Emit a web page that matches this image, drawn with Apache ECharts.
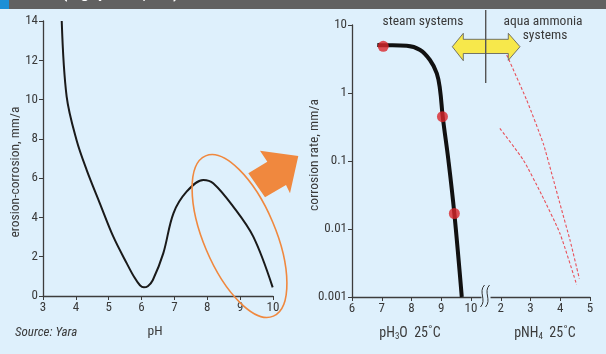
<!DOCTYPE html>
<html><head><meta charset="utf-8">
<script src="https://cdn.jsdelivr.net/npm/echarts@6/dist/echarts.min.js"></script>
<style>html,body{margin:0;padding:0;background:#def0fc;}#c{width:606px;height:354px;}</style>
</head><body><div id="c"></div>
<script>
// ---- Left chart: erosion-corrosion vs pH
const leftPH = [3.57, 3.72, 4.02, 4.33, 4.73, 5.14, 5.55, 5.78, 5.95, 6.07, 6.19, 6.34, 6.66, 6.97, 7.37, 7.88, 8.18, 8.79, 9.40, 9.99];
const leftRate = [14.0, 10.15, 7.94, 6.41, 4.72, 3.02, 1.66, 0.95, 0.55, 0.44, 0.5, 0.8, 2.17, 4.21, 5.31, 5.91, 5.74, 4.55, 3.02, 0.44];
const leftXTicks = ['3','4','5','6','7','8','9','10'];
const leftYTicks = ['0','2','4','6','8','10','12','14'];

// ---- Right chart: corrosion rate vs pH3O (steam) and pNH4 (aqua ammonia)
const steamPH = [6.85, 7.05, 7.84, 8.29, 8.62, 8.85, 8.96, 9.05, 9.24, 9.44, 9.69];
const steamRate = [5.1, 5.05, 4.95, 4.3, 3.06, 1.95, 1.11, 0.448, 0.103, 0.0169, 0.001];
const dotPH = [7.05, 9.04, 9.44];
const dotRate = [4.85, 0.448, 0.0169];
const ammoniaA_pNH4 = [2.20, 2.87, 3.43, 3.71, 4.05, 4.33, 4.64];
const ammoniaA_rate = [3.63, 0.79, 0.18, 0.066, 0.0189, 0.0068, 0.00187];
const ammoniaB_pNH4 = [1.97, 2.76, 3.38, 3.99, 4.55];
const ammoniaB_rate = [0.302, 0.103, 0.0315, 0.0086, 0.00152];
const rightXTicks = ['6','7','8','9','10','2','3','4','5'];
const rightYTicks = ['0.001','0.01','0.1','1','10'];
const pNH4Offset = 9; // pNH4 value v is placed at axis position v + 9 (after the break)

const FONT = '"Liberation Sans Narrow", "Roboto Condensed", "Liberation Sans", sans-serif';
const txt = '#3a3a3a';
const axisCol = '#3c3c3c';
const BG = '#def0fc';

const chart = echarts.init(document.getElementById('c'), null, {renderer: 'canvas'});

function zip(a, b) { return a.map((v, i) => [v, b[i]]); }

const axisCommon = {
  axisLine: {lineStyle: {color: axisCol, width: 1.3}},
  axisTick: {show: true, length: 4, lineStyle: {color: axisCol}},
  splitLine: {show: false},
  axisLabel: {color: txt, fontFamily: FONT, fontSize: 13, margin: 5}
};

chart.setOption({
  backgroundColor: BG,
  animation: false,
  grid: [
    {left: 43, width: 230, top: 21, height: 275},
    {left: 352, width: 238, top: 25, height: 272}
  ],
  xAxis: [
    Object.assign({}, axisCommon, {gridIndex: 0, type: 'value', min: 3, max: 10, interval: 1,
      axisLabel: Object.assign({}, axisCommon.axisLabel, {formatter: v => leftXTicks[Math.round(v) - 3]})}),
    Object.assign({}, axisCommon, {gridIndex: 1, type: 'value', min: 6, max: 14, interval: 1,
      axisLabel: Object.assign({}, axisCommon.axisLabel, {formatter: v => rightXTicks[Math.round(v) - 6]})})
  ],
  yAxis: [
    Object.assign({}, axisCommon, {gridIndex: 0, type: 'value', min: 0, max: 14, interval: 2,
      axisLabel: Object.assign({}, axisCommon.axisLabel, {formatter: v => leftYTicks[Math.round(v / 2)]})}),
    Object.assign({}, axisCommon, {gridIndex: 1, type: 'log', logBase: 10, min: 0.001, max: 10,
      axisLabel: Object.assign({}, axisCommon.axisLabel, {formatter: v => rightYTicks[Math.round(Math.log10(v)) + 3]})})
  ],
  series: [
    {type: 'line', xAxisIndex: 0, yAxisIndex: 0, data: zip(leftPH, leftRate), smooth: 0.35,
      showSymbol: false, lineStyle: {color: '#1a1a1a', width: 2}},
    {type: 'line', xAxisIndex: 1, yAxisIndex: 1, data: zip(steamPH, steamRate), smooth: 0.4,
      showSymbol: false, lineStyle: {color: '#111', width: 4}, z: 3},
    {type: 'line', xAxisIndex: 1, yAxisIndex: 1, data: zip(ammoniaA_pNH4.map(v => v + pNH4Offset), ammoniaA_rate), smooth: 0.2,
      showSymbol: false, lineStyle: {color: '#e8505a', width: 1.1, type: [3, 2]}},
    {type: 'line', xAxisIndex: 1, yAxisIndex: 1, data: zip(ammoniaB_pNH4.map(v => v + pNH4Offset), ammoniaB_rate), smooth: 0.2,
      showSymbol: false, lineStyle: {color: '#e8505a', width: 1.1, type: [3, 2]}},
    {type: 'scatter', xAxisIndex: 1, yAxisIndex: 1, data: zip(dotPH, dotRate), symbolSize: 11,
      itemStyle: {color: '#d9262b'}, z: 5}
  ],
  graphic: [
    {type: 'rect', shape: {x: 0, y: 0, width: 606, height: 9}, style: {fill: '#616161'}, z: 10},
    {type: 'rect', shape: {x: 0, y: 0, width: 9, height: 9}, style: {fill: '#1c8fd6'}, z: 11},
    {type: 'text', z: 12, style: {text: '(e.g. pH 9.2, 9.6)', x: 62, y: 2, fill: '#ffffff',
      font: 'bold 17px ' + FONT, verticalAlign: 'bottom'}},
    // axis titles and captions
    {type: 'text', x: 16, y: 172, rotation: Math.PI / 2, style: {text: 'erosion-corrosion, mm/a', fill: txt,
      font: '13.5px ' + FONT, align: 'center', verticalAlign: 'middle'}},
    {type: 'text', x: 315, y: 155, rotation: Math.PI / 2, style: {text: 'corrosion rate, mm/a', fill: txt,
      font: '13.5px ' + FONT, align: 'center', verticalAlign: 'middle'}},
    {type: 'text', style: {text: 'Source: Yara', x: 15, y: 333, fill: txt, font: 'italic 13px ' + FONT, verticalAlign: 'middle'}},
    {type: 'text', style: {text: 'pH', x: 155, y: 332, fill: txt, font: '13.5px ' + FONT, align: 'center', verticalAlign: 'middle'}},
    {type: 'text', style: {text: '{a|pH}{s|3}{a|O  25˚C}', x: 410, y: 333, align: 'center', verticalAlign: 'middle',
      rich: {a: {fontFamily: FONT, fontSize: 14, fill: txt}, s: {fontFamily: FONT, fontSize: 9, fill: txt, padding: [8, 0, 0, 0]}}}},
    {type: 'text', style: {text: '{a|pNH}{s|4}{a|  25˚C}', x: 545, y: 333, align: 'center', verticalAlign: 'middle',
      rich: {a: {fontFamily: FONT, fontSize: 14, fill: txt}, s: {fontFamily: FONT, fontSize: 9, fill: txt, padding: [8, 0, 0, 0]}}}},
    {type: 'text', style: {text: 'steam systems', x: 423, y: 22, fill: txt, font: '13.5px ' + FONT, align: 'center', verticalAlign: 'middle'}},
    {type: 'text', style: {text: 'aqua ammonia', x: 543, y: 22, fill: txt, font: '13.5px ' + FONT, align: 'center', verticalAlign: 'middle'}},
    {type: 'text', style: {text: 'systems', x: 545, y: 36, fill: txt, font: '13.5px ' + FONT, align: 'center', verticalAlign: 'middle'}},
    // yellow double arrow + separator
    {type: 'polygon', z: 6, shape: {points: [[452.3, 46.7], [463.3, 33.3], [463.3, 39.3], [508.3, 39.3], [508.3, 33.3], [520, 46.7],
      [508.3, 60.3], [508.3, 53.5], [463.3, 53.5], [463.3, 60.7]]}, style: {fill: '#f7e84b', stroke: '#555', lineWidth: 0.8}},
    {type: 'line', z: 7, shape: {x1: 485.7, y1: 10, x2: 485.7, y2: 83}, style: {stroke: '#555', lineWidth: 1.4}},
    // axis break
    {type: 'rect', z: 8, shape: {x: 481.5, y: 294, width: 9, height: 6}, style: {fill: BG}},
    {type: 'bezierCurve', z: 9, shape: {x1: 484.5, y1: 285, cpx1: 478, cpy1: 292, cpx2: 487, cpy2: 300, x2: 480.5, y2: 307},
      style: {fill: 'none', stroke: '#333', lineWidth: 1}},
    {type: 'bezierCurve', z: 9, shape: {x1: 489.5, y1: 285, cpx1: 483, cpy1: 292, cpx2: 492, cpy2: 300, x2: 485.5, y2: 307},
      style: {fill: 'none', stroke: '#333', lineWidth: 1}},
    // orange ellipse & arrow
    {type: 'ellipse', z: 6, x: 239.5, y: 236, rotation: 0.40, shape: {cx: 0, cy: 0, rx: 36, ry: 87},
      style: {fill: 'none', stroke: '#f0883e', lineWidth: 1.6}},
    {type: 'polygon', z: 6, shape: {points: [[248.3, 173.3], [267.3, 161.7], [260, 150.7], [298.3, 156], [290, 193.3], [286, 185], [265, 197.3]]},
      style: {fill: '#f0883e'}}
  ]
});
</script></body></html>
